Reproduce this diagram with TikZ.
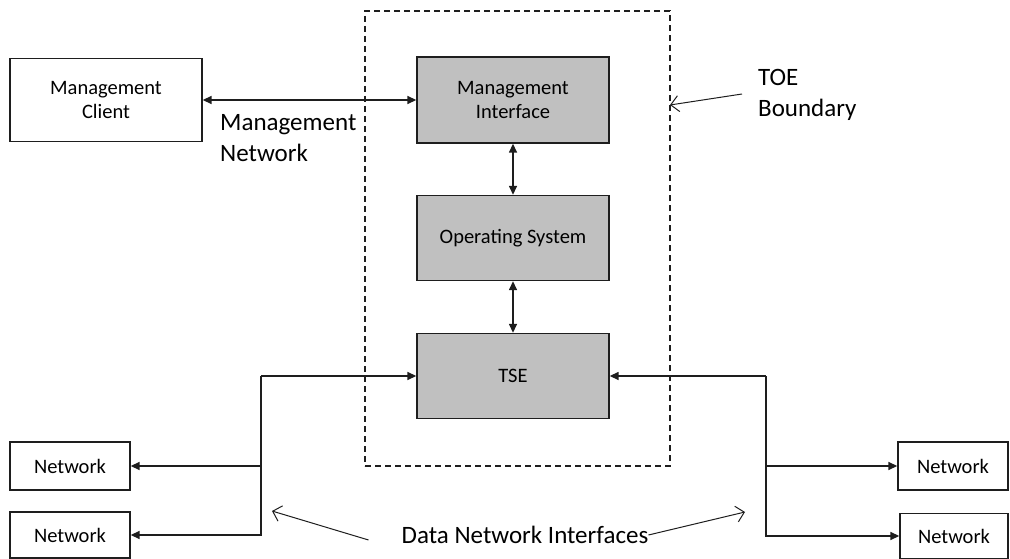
\documentclass[tikz,border=0pt]{standalone}
\usepackage{fontspec}
\setmainfont{Carlito}
\usetikzlibrary{arrows.meta,calc}
\definecolor{blockgray}{RGB}{192,192,192}
\definecolor{ink}{RGB}{30,30,30}
\tikzset{
  block/.style={draw=ink, line width=1.4pt, fill=blockgray, align=center,
    minimum width=192pt, minimum height=85pt, inner sep=0pt,
    font=\fontsize{20.5}{24.5}\selectfont},
  ext/.style={draw=ink, line width=1.4pt, fill=white, align=center, inner sep=0pt,
    font=\fontsize{20.5}{24.5}\selectfont},
  boundary/.style={draw=ink, line width=1.1pt, dash pattern=on 6pt off 4pt},
  flow/.style={draw=ink, line width=1.5pt,
    {Triangle[length=9pt,width=8pt]}-{Triangle[length=9pt,width=8pt]}},
  tip/.style={draw=ink, line width=1.5pt, -{Triangle[length=9pt,width=8pt]}},
  pointer/.style={draw=ink, line width=1pt, -{Straight Barb[length=8pt,width=16pt]}},
  lbl/.style={font=\fontsize{25}{30.5}\selectfont, align=left, inner sep=0pt}
}
\begin{document}
\begin{tikzpicture}[x=1pt,y=-1pt]
  \useasboundingbox (0,0) rectangle (1010,559);
  % TOE boundary
  \node[boundary, minimum width=305pt, minimum height=455pt] (toe) at (517.5,238.5) {};
  % central blocks
  \node[block, minimum height=86pt] (mi) at (513,100) {Management\\Interface};
  \node[block] (os) at (513,238) {Operating System};
  \node[block] (tse) at (513,376) {TSE};
  % outside boxes
  \node[ext, minimum width=192pt, minimum height=83pt] (mc) at (106,100) {Management\\Client};
  \node[ext, minimum width=120pt, minimum height=48pt] (netl1) at (70,466) {Network};
  \node[ext, minimum width=120pt, minimum height=46pt] (netl2) at (70,535) {Network};
  \node[ext, minimum width=110pt, minimum height=48pt] (netr1) at (953,466) {Network};
  \node[ext, minimum width=108pt, minimum height=45pt] (netr2) at (954,536) {Network};
  % labels
  \node[lbl, anchor=west] (mnet) at (220,138) {Management\\Network};
  \node[lbl, anchor=west] (toelbl) at (758,95) {TOE\\Boundary};
  \node[lbl] (dni) at (525,535) {Data Network Interfaces};
  % connectors
  \draw[flow] (mc.east) -- (mi.west);
  \draw[flow] (mi.south) -- (os.north);
  \draw[flow] (os.south) -- (tse.north);
  \coordinate (lj) at (261,376);
  \coordinate (rj) at (766,376);
  \draw[tip] (lj) -- (tse.west);
  \draw[tip] (lj |- netl1.east) -- (netl1.east);
  \draw[tip] (lj) |- (netl2.east);
  \draw[tip] (rj) -- (tse.east);
  \draw[tip] (rj |- netr1.west) -- (netr1.west);
  \draw[tip] (rj) |- (netr2.west);
  % pointers
  \coordinate (toehit) at (670,105);
  \coordinate (lhit) at (272,511);
  \coordinate (rhit) at (745,512);
  \draw[pointer] ([xshift=-16pt,yshift=1pt]toelbl.west) -- (toehit);
  \draw[pointer] ([xshift=-33pt,yshift=-5pt]dni.west) -- (lhit);
  \draw[pointer] (dni.east) -- (rhit);
\end{tikzpicture}
\end{document}
